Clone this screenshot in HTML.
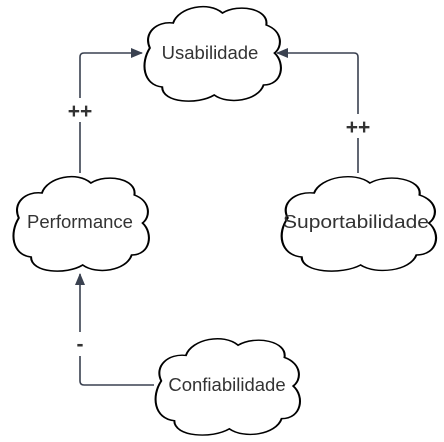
<!DOCTYPE html>
<html><head><meta charset="utf-8"><style>
html,body{margin:0;padding:0;background:#fff;width:444px;height:442px;overflow:hidden}
text{font-family:"Liberation Sans",sans-serif;fill:#333;}
</style></head><body>
<svg width="444" height="442" viewBox="0 0 444 442" xmlns="http://www.w3.org/2000/svg">
<defs>
<path id="c" d="M 5,45 C 0,30 10,18 22,20 C 26,4 48,-2 58,10 C 70,0 92,6 90,22 C 102,28 102,44 96,50 C 104,60 102,82 88,82 C 84,98 62,102 52,92 C 40,102 14,100 14,84 C 0,82 -2,60 5,45 Z"/>
<marker id="a" markerWidth="12" markerHeight="12" refX="11" refY="6" orient="auto" markerUnits="userSpaceOnUse"><path d="M0,1 L12,6 L0,11 Z" fill="#3a4150"/></marker>
</defs>
<g fill="none" stroke="#3a4150" stroke-width="1.6">
<path d="M80,173 V57 Q80,53 84,53 H142" marker-end="url(#a)"/>
<path d="M358,173 V57 Q358,53 354,53 H277" marker-end="url(#a)"/>
<path d="M154,385 H84 Q80,385 80,381 V274" marker-end="url(#a)"/>
</g>
<rect x="62" y="98" width="36" height="24" fill="#fff"/>
<rect x="340" y="114" width="36" height="24" fill="#fff"/>
<rect x="72" y="332" width="16" height="24" fill="#fff"/>
<g font-weight="bold" text-anchor="middle" fill="#555"><text x="80" y="118" font-size="21" fill="#555">++</text><text x="358" y="134" font-size="21" fill="#555">++</text><text x="80" y="351" font-size="21" fill="#555">-</text></g>
<g fill="#fff" stroke="#000">
<use href="#c" transform="translate(143,3) scale(1.37,1)" style="stroke-width:1.5"/>
<use href="#c" transform="translate(12,173) scale(1.36,1)" style="stroke-width:1.5"/>
<use href="#c" transform="translate(280,173) scale(1.55,1)" style="stroke-width:1.4"/>
<use href="#c" transform="translate(154,335) scale(1.45,1.02)" style="stroke-width:1.4"/>
</g>
<g font-size="18.5" text-anchor="middle">
<text x="210" y="59">Usabilidade</text>
<text x="80" y="228">Performance</text>
<text x="356" y="228" textLength="146" lengthAdjust="spacingAndGlyphs">Suportabilidade</text>
<text x="227" y="391">Confiabilidade</text>
</g>
</svg>
</body></html>
